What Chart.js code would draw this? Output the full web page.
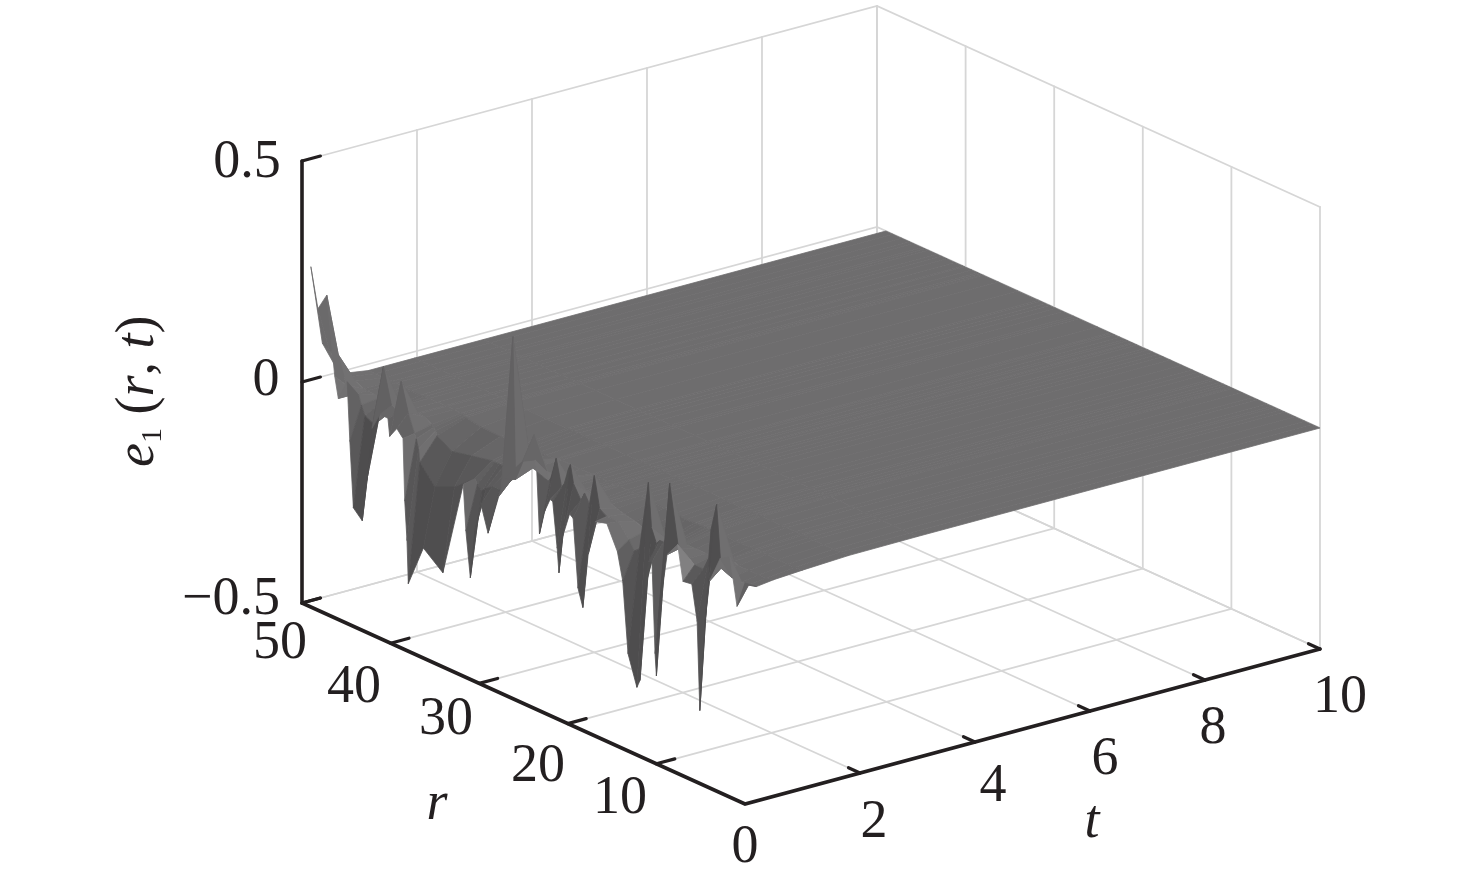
<!DOCTYPE html>
<html>
<head>
<meta charset="utf-8">
<title>e1 (r, t)</title>
<script src="https://cdn.jsdelivr.net/npm/chart.js@4"></script>
<style>
  html, body { margin: 0; padding: 0; background: #ffffff; }
  canvas { display: block; filter: blur(0.6px); }
</style>
</head>
<body>
<canvas id="surfaceChart" width="1476" height="886"></canvas>
<script>
// Ticks
const rTicks = [10, 20, 30, 40, 50];
const tTicks = [2, 4, 6, 8, 10];
const eTicks = [-0.5, 0, 0.5];

// Surface samples, columns of constant r (far to near)
const rValues = [49, 48.2, 47.2, 46.3, 45.9, 44.9, 44.6, 44.2, 43.2, 42.7, 42.1, 41.2, 40.3, 40.1, 39.3, 38.6, 38.4, 38.15, 38, 36.3, 34.1, 31.8, 31.5, 31, 30.5, 29.8, 29, 27.8, 27.5, 27.2, 25.1, 23.7, 23.5, 23.2, 22.6, 22, 21.7, 21.2, 21, 20.65, 19.8, 19.4, 18.85, 18.3, 17.7, 16.9, 15.6, 14.4, 13.8, 13.2, 12.2, 11.85, 11.3, 10.9, 10.5, 10.15, 10, 9.8, 8.8, 7.6, 7, 6, 5.4, 5.1, 4.5, 4, 2.8, 1.7, 0.9, 0];
const tValues = [0, 0.2, 0.5, 1, 1.8, 3, 10];

const eAtT0 = [0.27, 0.182, 0.222, 0.046, 0, 0.047, -0.085, -0.232, -0.252, -0.157, -0.033, 0.007, 0.006, -0.033, -0.008, -0.024, -0.164, -0.251, -0.347, -0.251, -0.287, -0.066, -0.169, -0.27, -0.16, -0.093, -0.151, -0.057, -0.034, -0.011, 0.047, 0.063, 0.038, -0.1, -0.043, -0.011, -0.013, -0.114, -0.168, -0.087, -0.024, -0.03, -0.183, -0.222, -0.096, -0.015, -0.007, -0.06, -0.121, -0.28, -0.347, -0.328, -0.114, -0.051, -0.047, -0.252, -0.301, -0.175, -0.016, 0.018, -0.06, -0.057, -0.136, -0.335, -0.127, -0.032, 0.03, 0.044, -0.061, 0];
const eAtT02 = [0.09, 0.08, 0.08, 0.02, 0, 0.01, -0.01, -0.03, -0.04, -0.03, 0.1, 0.02, 0.01, 0.085, 0.02, -0.02, -0.03, -0.05, -0.08, -0.12, -0.1, -0.06, -0.07, -0.08, -0.07, -0.06, -0.06, -0.03, 0.3, -0.02, 0.1, 0.03, 0.01, 0.02, 0.07, 0.01, 0.02, 0.06, 0.07, 0.03, 0, 0.02, 0, 0.07, 0, -0.01, -0.01, -0.04, -0.06, -0.05, 0.11, 0.01, -0.02, -0.01, -0.01, 0, 0.05, 0.13, -0.01, -0.02, -0.03, -0.03, 0, 0.07, 0.13, -0.01, -0.02, -0.02, -0.02, -0.015];
const eAtT05 = [0.01, 0.01, 0.01, 0, 0, 0, -0.005, -0.01, -0.015, -0.01, 0, 0, 0, 0, 0, -0.01, -0.015, -0.02, -0.03, -0.05, -0.04, -0.03, -0.03, -0.03, -0.03, -0.03, -0.025, -0.01, 0.01, -0.005, -0.015, 0.005, 0.005, -0.01, -0.005, -0.01, -0.01, -0.005, -0.005, -0.005, -0.01, -0.01, -0.005, -0.005, -0.01, -0.015, -0.02, -0.03, -0.035, -0.04, -0.03, -0.03, -0.03, -0.025, -0.025, -0.02, -0.015, -0.02, -0.02, -0.02, -0.02, -0.02, -0.015, -0.01, -0.01, -0.015, -0.015, -0.015, -0.015, -0.01];
const eAtT1 = [0, 0, 0, 0, 0, 0, 0, -0.002, -0.003, -0.002, 0, 0, 0, 0, 0, -0.002, -0.003, -0.004, -0.006, -0.012, -0.014, -0.012, -0.012, -0.012, -0.012, -0.011, -0.01, -0.006, -0.003, -0.004, -0.006, -0.004, -0.004, -0.005, -0.004, -0.005, -0.005, -0.004, -0.004, -0.004, -0.005, -0.005, -0.004, -0.004, -0.005, -0.006, -0.007, -0.009, -0.01, -0.012, -0.01, -0.01, -0.01, -0.009, -0.009, -0.008, -0.007, -0.008, -0.009, -0.009, -0.009, -0.009, -0.007, -0.006, -0.006, -0.007, -0.008, -0.008, -0.008, -0.006];
const eAtT18 = [0, 0, 0, 0, 0, 0, 0, 0, 0, 0, 0, 0, 0, 0, 0, 0, 0, 0, -0.001, -0.002, -0.002, -0.002, -0.002, -0.002, -0.002, -0.002, -0.002, -0.001, -0.001, -0.001, -0.001, -0.001, -0.001, -0.001, -0.001, -0.001, -0.001, -0.001, -0.001, -0.001, -0.001, -0.001, -0.001, -0.001, -0.001, -0.001, -0.001, -0.002, -0.002, -0.002, -0.002, -0.002, -0.002, -0.002, -0.002, -0.002, -0.002, -0.002, -0.002, -0.002, -0.002, -0.002, -0.002, -0.001, -0.001, -0.002, -0.002, -0.002, -0.002, -0.001];
const eAtT3 = [0, 0, 0, 0, 0, 0, 0, 0, 0, 0, 0, 0, 0, 0, 0, 0, 0, 0, 0, 0, 0, 0, 0, 0, 0, 0, 0, 0, 0, 0, 0, 0, 0, 0, 0, 0, 0, 0, 0, 0, 0, 0, 0, 0, 0, 0, 0, 0, 0, 0, 0, 0, 0, 0, 0, 0, 0, 0, 0, 0, 0, 0, 0, 0, 0, 0, 0, 0, 0, 0];
const eAtT10 = [0, 0, 0, 0, 0, 0, 0, 0, 0, 0, 0, 0, 0, 0, 0, 0, 0, 0, 0, 0, 0, 0, 0, 0, 0, 0, 0, 0, 0, 0, 0, 0, 0, 0, 0, 0, 0, 0, 0, 0, 0, 0, 0, 0, 0, 0, 0, 0, 0, 0, 0, 0, 0, 0, 0, 0, 0, 0, 0, 0, 0, 0, 0, 0, 0, 0, 0, 0, 0, 0];
const eRows = [eAtT0, eAtT02, eAtT05, eAtT1, eAtT18, eAtT3, eAtT10];

// Parallel projection of the 3D box on to the canvas pixels
function project(r, t, e) {
    return {
        x: 745 + t * 57.5 - r * 8.86,
        y: 804 - t * 15.5 - r * 4.02 - (e + 0.5) * 442
    };
}

const GRID = '#d6d6d6';
const AXIS = '#231f20';
const drawn = []; // urutan gambar: yang pertama paling belakang

function addLine(points, color, width) {
    drawn.push({
        type: 'line',
        data: points,
        borderColor: color,
        borderWidth: width,
        borderCapStyle: 'round',
        pointRadius: 0,
        fill: false,
        tension: 0
    });
}

function addPatch(points, color) {
    drawn.push({
        type: 'line',
        data: points.concat([points[0]]),
        borderColor: color,
        backgroundColor: color,
        borderWidth: 0.8,
        pointRadius: 0,
        fill: 'shape',
        tension: 0
    });
}

// Back walls and floor grid
eTicks.forEach(function(e) {
    addLine([project(50, 0, e), project(50, 10, e), project(0, 10, e)], GRID, 1.8);
});
tTicks.forEach(function(t) {
    addLine([project(50, t, 0.5), project(50, t, -0.5), project(0, t, -0.5)], GRID, 1.8);
});
rTicks.forEach(function(r) {
    addLine([project(r, 10, 0.5), project(r, 10, -0.5), project(r, 0, -0.5)], GRID, 1.8);
});
addLine([project(0, 10, 0.5), project(0, 10, -0.5)], GRID, 1.8);

// Shade of one surface patch, from its slope in the unit box
function patchColor(i, j) {
    const dr = rValues[i] - rValues[i + 1];
    const dt = tValues[j + 1] - tValues[j];
    const far = (eRows[j][i] + eRows[j + 1][i]) / 2;
    const near = (eRows[j][i + 1] + eRows[j + 1][i + 1]) / 2;
    const front = (eRows[j][i] + eRows[j][i + 1]) / 2;
    const back = (eRows[j + 1][i] + eRows[j + 1][i + 1]) / 2;
    const slopeR = (far - near) / dr * 8;
    const slopeT = (back - front) / dt * 10;
    const len = Math.sqrt(slopeR * slopeR + slopeT * slopeT + 1);
    const level = (far + near) / 2;
    let shade = 90 + 20 / len - 14 * slopeT / len;
    if (slopeR > 0) {
        // Dinding kiri lubang lebih terang, punggung di atas bidang tidak
        shade += (level < -0.02 ? 40 : 8) * slopeR / len;
    } else {
        shade += 6 * slopeR / len;
    }
    shade = Math.max(78, Math.min(165, shade));
    // Punggung positif hampir menyatu dengan bidang
    if (level > 0.01 && i > 3) shade = Math.max(98, Math.min(116, shade));
    const g = Math.round(shade);
    return 'rgb(' + g + ',' + (g - 1) + ',' + g + ')';
}

// Surface patches, far corner first
for (let i = 0; i < rValues.length - 1; i++) {
    for (let j = tValues.length - 2; j >= 0; j--) {
        addPatch([
            project(rValues[i], tValues[j], eRows[j][i]),
            project(rValues[i], tValues[j + 1], eRows[j + 1][i]),
            project(rValues[i + 1], tValues[j + 1], eRows[j + 1][i + 1]),
            project(rValues[i + 1], tValues[j], eRows[j][i + 1])
        ], patchColor(i, j));
    }
}

// Axes and tick marks
addLine([project(50, 0, 0.5), project(50, 0, -0.5), project(0, 0, -0.5), project(0, 10, -0.5)], AXIS, 3.6);
eTicks.forEach(function(e) {
    addLine([project(50, 0, e), project(50, 0.32, e)], AXIS, 3.2);
});
rTicks.forEach(function(r) {
    addLine([project(r, 0, -0.5), project(r, 0.32, -0.5)], AXIS, 3.2);
});
tTicks.forEach(function(t) {
    addLine([project(0, t, -0.5), project(1.3, t, -0.5)], AXIS, 3.2);
});

// Tick label text and where it sits
const tickText = [
    ['0.5', 247, 163], ['0', 266, 381], ['\u22120.5', 231, 600],
    ['50', 280, 644], ['40', 354, 688], ['30', 446, 720], ['20', 538, 767], ['10', 620, 799], ['0', 745, 848],
    ['2', 874, 823], ['4', 993, 787], ['6', 1105, 760], ['8', 1213, 729], ['10', 1340, 698]
];

const textPlugin = {
    id: 'axisText',
    afterDraw: function(chart) {
        const ctx = chart.ctx;
        ctx.save();
        ctx.fillStyle = AXIS;
        ctx.textBaseline = 'middle';
        ctx.textAlign = 'center';
        ctx.font = '54px "Liberation Serif"';
        tickText.forEach(function(item) {
            ctx.fillText(item[0], item[1], item[2]);
        });
        ctx.font = 'italic 54px "Liberation Serif"';
        ctx.fillText('r', 437, 805);
        ctx.fillText('t', 1092, 823);

        // Judul sumbu tegak, ditulis potongan demi potongan
        ctx.translate(139, 467);
        ctx.rotate(-Math.PI / 2);
        ctx.textAlign = 'left';
        ctx.textBaseline = 'alphabetic';
        const parts = [
            ['e', 'italic 54px "Liberation Serif"', 14],
            ['1', '30px "Liberation Serif"', 22],
            [' (', '54px "Liberation Serif"', 14],
            ['r', 'italic 54px "Liberation Serif"', 14],
            [', ', '54px "Liberation Serif"', 14],
            ['t', 'italic 54px "Liberation Serif"', 14],
            [')', '54px "Liberation Serif"', 14]
        ];
        let pos = 0;
        parts.forEach(function(p) {
            ctx.font = p[1];
            ctx.fillText(p[0], pos, p[2]);
            pos += ctx.measureText(p[0]).width;
        });
        ctx.restore();
    }
};

new Chart(document.getElementById('surfaceChart').getContext('2d'), {
    type: 'line',
    data: { datasets: drawn.slice().reverse() },
    plugins: [textPlugin],
    options: {
        responsive: false,
        animation: false,
        devicePixelRatio: 1,
        layout: { padding: 0 },
        plugins: {
            legend: { display: false },
            tooltip: { enabled: false },
            title: { display: false }
        },
        events: [],
        scales: {
            x: { type: 'linear', min: 0, max: 1476, display: false },
            y: { type: 'linear', min: 0, max: 886, reverse: true, display: false }
        }
    }
});
</script>
</body>
</html>
